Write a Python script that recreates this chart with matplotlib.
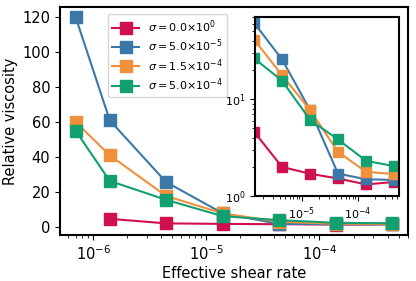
import matplotlib
matplotlib.use('Agg')
import matplotlib.pyplot as plt

# shear rates
rate_all = [7e-7, 1.4e-6, 4.4e-6, 1.4e-5, 4.4e-5, 1.4e-4, 4.4e-4]
rate_red = [1.4e-6, 4.4e-6, 1.4e-5, 4.4e-5, 1.4e-4, 4.4e-4]

# relative viscosity per sigma
visc_red = [4.6, 2.0, 1.7, 1.52, 1.32, 1.4]
visc_blue = [120, 61, 25.7, 7.7, 1.71, 1.49, 1.47]
visc_orange = [60, 41, 17.7, 7.7, 2.86, 1.78, 1.69]
visc_green = [55, 26.3, 15.5, 6.1, 3.84, 2.31, 2.04]

labels = [r'$\sigma = 0.0{\times}10^{0}$', r'$\sigma = 5.0{\times}10^{-5}$',
          r'$\sigma = 1.5{\times}10^{-4}$', r'$\sigma = 5.0{\times}10^{-4}$']
colors = ['#D0104C', '#3B78A8', '#F0903A', '#12A070']

series = [(rate_red, visc_red), (rate_all, visc_blue),
          (rate_all, visc_orange), (rate_all, visc_green)]

fig = plt.figure(figsize=(4.16, 2.81), dpi=100)
ax = fig.add_axes([0.144, 0.164, 0.837, 0.811])

for (x, y), c, lab in zip(series, colors, labels):
    ax.plot(x, y, '-s', color=c, lw=1.5, ms=8.5, mec=c, label=lab)

ax.set_xscale('log')
ax.set_xlabel('Effective shear rate', fontsize=10.5, labelpad=2)
ax.set_ylabel('Relative viscosity', fontsize=10.5, labelpad=3)
ax.tick_params(labelsize=10.5)
for s in ax.spines.values():
    s.set_linewidth(1.5)
ax.legend(loc='upper left', bbox_to_anchor=(0.138, 0.97), borderaxespad=0,
          fontsize=8, handlelength=2.4, labelspacing=0.25)

# inset, log-log, without the first shear rate
ins = fig.add_axes([0.613, 0.302, 0.346, 0.637])
for (x, y), c in zip(series, colors):
    ins.plot(x, y, '-s', color=c, lw=1.5, ms=7, mec=c)
ins.set_xscale('log')
ins.set_yscale('log')
ins.set_xlim(1.45e-6, 5.4e-4)
ins.set_ylim(1, 70)
ins.tick_params(labelsize=8)
for s in ins.spines.values():
    s.set_linewidth(1.5)

fig.savefig('out.png', dpi=100)
